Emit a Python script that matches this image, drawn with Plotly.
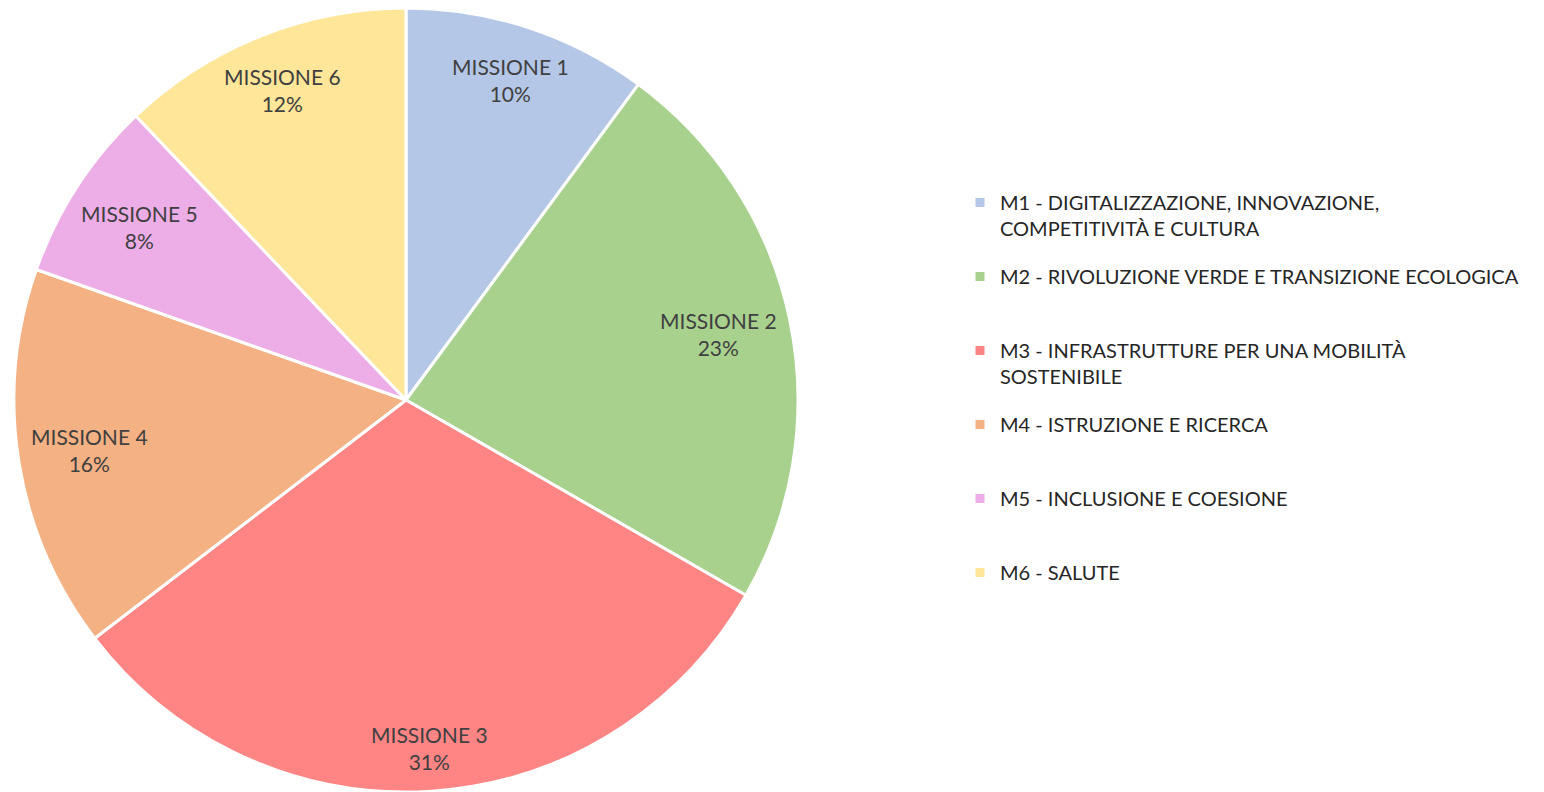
import math
import plotly.graph_objects as go

missions = ["MISSIONE 1", "MISSIONE 2", "MISSIONE 3", "MISSIONE 4", "MISSIONE 5", "MISSIONE 6"]
legend_labels = [
    "M1 - DIGITALIZZAZIONE, INNOVAZIONE,<br>COMPETITIVITÀ E CULTURA",
    "M2 - RIVOLUZIONE VERDE E TRANSIZIONE ECOLOGICA<br> ",
    "M3 - INFRASTRUTTURE PER UNA MOBILITÀ<br>SOSTENIBILE",
    "M4 - ISTRUZIONE E RICERCA<br> ",
    "M5 - INCLUSIONE E COESIONE<br> ",
    "M6 - SALUTE<br> ",
]
values = [10.1, 23.2, 31.3, 15.8, 7.5, 12.1]
pct_labels = ["10%", "23%", "31%", "16%", "8%", "12%"]
colors = ["#B4C7E7", "#A9D18E", "#FF8585", "#F4B183", "#EDADE6", "#FFE699"]

W, H = 1544, 792
# pie geometry (pixels)
px0, px1 = 14, 798
py0, py1 = 8, 792
R = (px1 - px0) / 2
cx = (px0 + px1) / 2
cy = (py0 + py1) / 2

fig = go.Figure()
fig.add_trace(go.Pie(
    labels=[l.replace("<br> ", "") for l in legend_labels],
    values=values,
    textinfo="none",
    marker=dict(colors=colors, line=dict(color="white", width=3)),
    sort=False,
    direction="clockwise",
    rotation=0,
    hoverinfo="label+percent",
    showlegend=False,
    domain=dict(x=[px0 / W, px1 / W], y=[1 - py1 / H, 1 - py0 / H]),
))

# legend entries (one per slice)
for i, (lab, col) in enumerate(zip(legend_labels, colors)):
    fig.add_trace(go.Scatter(
        x=[None], y=[None], mode="markers", name=lab,
        marker=dict(symbol="square", size=9, color=col),
        legendgroup=f"g{i}", showlegend=True, hoverinfo="skip",
    ))

# data labels placed inside the slice end, horizontal
total = sum(values)
cum = 0.0
hw, hh, pad = 58, 29, 10
for name, v, pct in zip(missions, values, pct_labels):
    mid = (cum + v / 2) / total * 2 * math.pi
    cum += v
    s, c = math.sin(mid), math.cos(mid)
    r = R - pad - (abs(s) * hw + abs(c) * hh)
    x = cx + r * s
    y = cy - r * c
    fig.add_annotation(
        x=x / W, y=1 - y / H, xref="paper", yref="paper",
        text=f"{name}<br>{pct}", showarrow=False,
        font=dict(family="Lato", size=21, color="#404040"),
        align="center", xanchor="center", yanchor="middle",
    )

fig.update_layout(
    width=W, height=H,
    margin=dict(l=0, r=0, t=0, b=0),
    paper_bgcolor="white",
    plot_bgcolor="white",
    xaxis=dict(visible=False),
    yaxis=dict(visible=False),
    showlegend=True,
    legend=dict(
        x=960 / W, y=1 - 183 / H, xanchor="left", yanchor="top",
        font=dict(family="Lato", size=20, color="#262626"),
        valign="top", itemwidth=30, tracegroupgap=19,
        bgcolor="rgba(0,0,0,0)",
    ),
)

fig.write_html("out.html")
